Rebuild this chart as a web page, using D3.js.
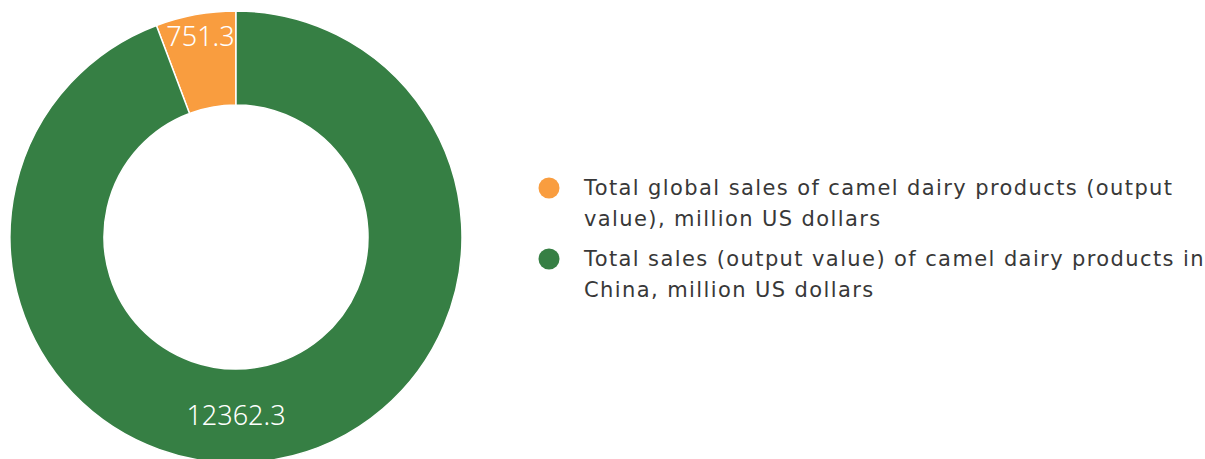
<!DOCTYPE html>
<html>
<head>
<meta charset="utf-8">
<script src="https://cdn.jsdelivr.net/npm/d3@7"></script>
<style>
  html, body { margin: 0; padding: 0; background: #fff; }
  svg { display: block; font-family: "Noto Sans", "Open Sans", sans-serif; }
</style>
</head>
<body>
<svg id="chart" width="1205" height="459"></svg>
<script>
// data
const legendLines = [
  ["Total global sales of camel dairy products (output", "value), million US dollars"],
  ["Total sales (output value) of camel dairy products in", "China, million US dollars"],
];
const values = [751.3, 12362.3];
const colors = ["#f99d3f", "#367f44"];

const svg = d3.select("#chart");
const cx = 236, cy = 237;
const outerR = 226, innerR = 132;

// orange slice ends at 12 o'clock, green runs clockwise from there
const total = d3.sum(values);
const startAngle = -2 * Math.PI * values[0] / total;
const pie = d3.pie().sort(null).value((d) => d)
  .startAngle(startAngle).endAngle(startAngle + 2 * Math.PI);
const arcs = pie(values);

const arc = d3.arc().innerRadius(innerR).outerRadius(outerR);

const g = svg.append("g").attr("transform", `translate(${cx},${cy})`);

g.selectAll("path")
  .data(arcs)
  .enter()
  .append("path")
  .attr("d", arc)
  .attr("fill", (d, i) => colors[i])
  .attr("stroke", "#fff")
  .attr("stroke-width", 1.5);

// value labels near the outer edge
const labelArc = d3.arc().innerRadius(204).outerRadius(204);
g.selectAll("text.val")
  .data(arcs)
  .enter()
  .append("text")
  .attr("class", "val")
  .attr("transform", (d, i) => {
    if (i === 1) return "translate(0,178)";
    const c = labelArc.centroid(d);
    return `translate(${c[0] + 1},${c[1]})`;
  })
  .attr("text-anchor", "middle")
  .attr("dy", "0.36em")
  .attr("fill", "#fff")
  .style("font-size", "27px")
  .style("font-weight", 300)
  .text((d) => d.data);

// legend
const legend = svg.append("g").attr("transform", "translate(549,0)");
const items = legend.selectAll("g")
  .data(legendLines)
  .enter()
  .append("g")
  .attr("transform", (d, i) => `translate(0,${188 + i * 71})`);

items.append("circle")
  .attr("r", 10.5)
  .attr("fill", (d, i) => colors[i]);

items.each(function (lines) {
  const t = d3.select(this).append("text")
    .attr("x", 35)
    .attr("fill", "#383838")
    .style("font-family", "'DejaVu Sans', sans-serif")
    .style("font-size", "21px")
    .style("letter-spacing", "1.4px");
  lines.forEach((line, j) => {
    t.append("tspan")
      .attr("x", 35)
      .attr("y", 7 + j * 31)
      .text(line);
  });
});
</script>
</body>
</html>
